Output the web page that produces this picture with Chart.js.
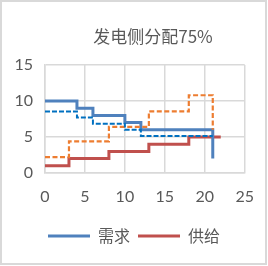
<!DOCTYPE html>
<html><head><meta charset="utf-8">
<script src="https://cdn.jsdelivr.net/npm/chart.js@4/dist/chart.umd.min.js"></script>
<style>html,body{margin:0;padding:0;background:#fff}#wrap{width:268px;height:266px;position:relative}</style>
</head><body><div id="wrap"><canvas id="c" width="268" height="266"></canvas></div>
<script>
const title = '发电侧分配75%';
const demandX = [0, 4, 6, 10, 12, 21];
const demandY = [10, 9, 8, 7, 6, 2];
const demand85X = [0, 4, 6, 10, 12, 21];
const demand85Y = [8.55, 7.7, 6.85, 6.0, 5.15, 5.15];
const supplyX = [0, 3, 8, 13, 18, 22];
const supplyY = [1, 2, 3, 4, 5, 5];
const supplyAdjX = [0, 3, 8, 13, 18, 21];
const supplyAdjY = [2.2, 4.4, 6.4, 8.55, 10.8, 6];
const legendLabels = ['需求', '供给'];
const xTicks = [0, 5, 10, 15, 20, 25];
const yTicks = [0, 5, 10, 15];

const pts = (xs, ys) => xs.map((x, i) => ({x, y: ys[i]}));
const txt = '#595959';
const cjk = '"Noto Sans CJK SC", "Noto Sans", sans-serif';
const num = 'Lato, "Noto Sans", sans-serif';

const deco = {
  id: 'deco',
  afterDraw(chart) {
    const ctx = chart.ctx;
    ctx.save();
    ctx.strokeStyle = '#d9d9d9';
    ctx.lineWidth = 2;
    ctx.strokeRect(1, 1, 265, 263);
    ctx.fillStyle = txt;
    ctx.font = '17px ' + cjk;
    ctx.textAlign = 'center';
    ctx.textBaseline = 'middle';
    ctx.fillText(title, 153, 37);
    ctx.restore();
  }
};

new Chart(document.getElementById('c'), {
  type: 'line',
  data: {
    datasets: [
      {label: legendLabels[0], data: pts(demandX, demandY), borderColor: '#4F81BD', backgroundColor: '#4F81BD', borderWidth: 3, stepped: 'before', pointRadius: 0, order: 3},
      {label: legendLabels[1], data: pts(supplyX, supplyY), borderColor: '#C0504D', backgroundColor: '#C0504D', borderWidth: 3, stepped: 'before', pointRadius: 0, order: 4},
      {label: '需求2', data: pts(demand85X, demand85Y), borderColor: '#0070C0', borderWidth: 2, borderDash: [5, 2], stepped: 'before', pointRadius: 0, order: 1},
      {label: '供给2', data: pts(supplyAdjX, supplyAdjY), borderColor: '#ED7D31', borderWidth: 2.2, borderDash: [5, 2.5], stepped: 'before', pointRadius: 0, order: 2}
    ]
  },
  options: {
    responsive: false,
    animation: false,
    layout: {padding: {left: 0, right: 0, top: 65, bottom: 12}},
    scales: {
      x: {
        type: 'linear', min: 0, max: 25,
        afterBuildTicks: s => { s.ticks = xTicks.map(v => ({value: v})); },
        afterFit: s => { s.height = 47; },
        grid: {color: '#d9d9d9', lineWidth: 1.5, drawTicks: false},
        border: {color: '#d9d9d9', width: 1.5},
        ticks: {color: txt, font: {family: num, size: 16}, padding: 14, maxRotation: 0}
      },
      y: {
        type: 'linear', min: 0, max: 15,
        afterBuildTicks: s => { s.ticks = yTicks.map(v => ({value: v})); },
        afterFit: s => { s.width = 45; },
        grid: {color: '#d9d9d9', lineWidth: 1.5, drawTicks: false},
        border: {color: '#d9d9d9', width: 1.5},
        ticks: {color: txt, font: {family: num, size: 16}, padding: 12}
      },
      yR: {
        type: 'linear', position: 'right', min: 0, max: 15,
        afterFit: s => { s.width = 21; },
        grid: {display: false, drawTicks: false},
        border: {display: false},
        ticks: {display: false}
      }
    },
    plugins: {
      title: {display: false},
      tooltip: {enabled: false},
      legend: {
        position: 'bottom',
        labels: {
          generateLabels: (chart) => Chart.defaults.plugins.legend.labels.generateLabels(chart)
            .filter(it => it.datasetIndex < 2)
            .map(it => Object.assign(it, {lineWidth: 0, strokeStyle: 'rgba(0,0,0,0)'})),
          boxWidth: 42, boxHeight: 3, padding: 8,
          color: txt, font: {family: cjk, size: 16}
        }
      }
    }
  },
  plugins: [deco]
});
</script></body></html>
